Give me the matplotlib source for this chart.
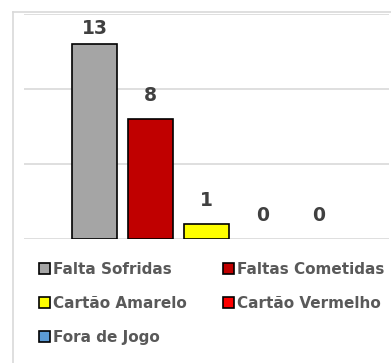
import matplotlib
matplotlib.use('Agg')
import matplotlib.pyplot as plt
from matplotlib.patches import Patch
from matplotlib.lines import Line2D

# data
series = ['Falta Sofridas', 'Faltas Cometidas', 'Cartão Amarelo', 'Cartão Vermelho', 'Fora de Jogo']
values = [13, 8, 1, 0, 0]
colors = ['#A5A5A5', '#C00000', '#FFFF00', '#FF0000', '#5B9BD5']

txt_col = '#595959'
grid_col = '#D9D9D9'

fig = plt.figure(figsize=(3.91, 3.63), dpi=100)
ax = fig.add_axes([24/391, 1-239/363, 365/391, 225/363])

ymax = 15
for i, (v, c) in enumerate(zip(values, colors)):
    # zero-height bars get no outline
    ax.bar(i, v, width=0.8, color=c, edgecolor='black',
           linewidth=1.2 if v > 0 else 0, zorder=3)
    # labels sit above the bar, pushed down if they would leave the plot
    ax.text(i, min(v + 0.95, ymax - 1.6), str(v), ha='center', va='bottom',
            fontsize=13.5, fontweight='bold', color='#404040')

ax.set_xlim(2 - 182.5/56, 2 + 182.5/56)
ax.set_ylim(0, ymax)
ax.set_yticks([0, 5, 10, 15])
ax.yaxis.grid(True, color=grid_col, linewidth=1.2, zorder=0)
ax.tick_params(left=False, bottom=False, labelleft=False, labelbottom=False)
for s in ax.spines.values():
    s.set_visible(False)

# chart area border (left and top)
fig.add_artist(Line2D([13/391, 13/391], [0, 1-12/363], color=grid_col, lw=1.2))
fig.add_artist(Line2D([13/391, 1], [1-12/363, 1-12/363], color=grid_col, lw=1.2))

# legend, column-first order
order = [0, 2, 4, 1, 3]
handles = [Patch(facecolor=colors[k], edgecolor='black', linewidth=1.2) for k in order]
labels = [series[k] for k in order]
leg = fig.legend(handles, labels, ncol=2, loc='upper left',
                 bbox_to_anchor=(39/391, 1-262/363), frameon=False,
                 prop={'size': 11, 'weight': 'bold'},
                 handlelength=0.7, handleheight=0.7, handletextpad=0.2,
                 labelspacing=1.23, columnspacing=2.4, borderpad=0, borderaxespad=0)
for t in leg.get_texts():
    t.set_color(txt_col)

fig.savefig('out.png', dpi=100)
